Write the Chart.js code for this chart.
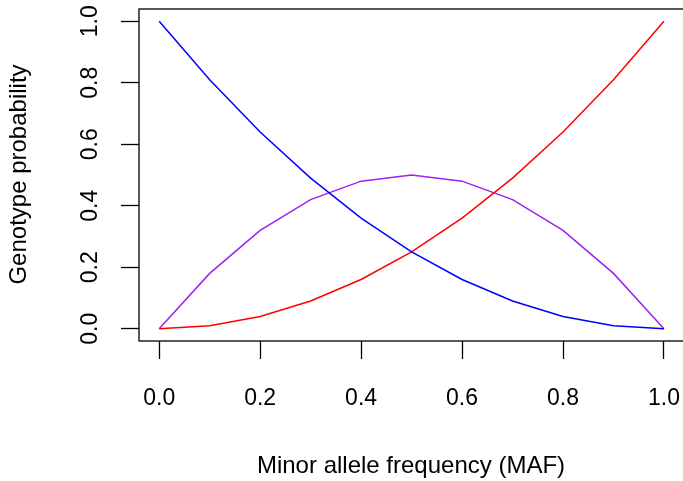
<!DOCTYPE html>
<html lang="en">
<head>
    <meta charset="UTF-8">
    <title>Genotype probability</title>
    <script src="https://cdn.jsdelivr.net/npm/chart.js"></script>
    <style>
        html, body { margin: 0; padding: 0; background: #fff; }
        #wrap { width: 683px; height: 481px; }
    </style>
</head>
<body>
    <div id="wrap"><canvas id="hwChart" width="683" height="481"></canvas></div>
    <script>
        // values
        const maf = [0.0, 0.1, 0.2, 0.3, 0.4, 0.5, 0.6, 0.7, 0.8, 0.9, 1.0];
        const homMajor = [1.00, 0.81, 0.64, 0.49, 0.36, 0.25, 0.16, 0.09, 0.04, 0.01, 0.00];
        const homMinor = [0.00, 0.01, 0.04, 0.09, 0.16, 0.25, 0.36, 0.49, 0.64, 0.81, 1.00];
        const hetero = [0.00, 0.18, 0.32, 0.42, 0.48, 0.50, 0.48, 0.42, 0.32, 0.18, 0.00];
        const xTicks = [0.0, 0.2, 0.4, 0.6, 0.8, 1.0];
        const yTicks = [0.0, 0.2, 0.4, 0.6, 0.8, 1.0];
        const xTitle = 'Minor allele frequency (MAF)';
        const yTitle = 'Genotype probability';

        const TICK_FONT = '23px "Liberation Sans", Arial, sans-serif';
        const TITLE_FONT = '24px "Liberation Sans", Arial, sans-serif';

        function pts(ys) {
            return maf.map((m, i) => ({ x: m, y: ys[i] }));
        }

        // R-style box, tick labels and axis titles
        const rFrame = {
            id: 'rFrame',
            afterDraw(chart) {
                const { ctx, chartArea: a, scales } = chart;
                ctx.save();
                ctx.strokeStyle = '#000';
                ctx.lineWidth = 1.3;
                ctx.strokeRect(a.left, a.top, a.right + 2 - a.left, a.bottom - a.top);

                ctx.fillStyle = '#000';
                ctx.textAlign = 'center';
                ctx.textBaseline = 'alphabetic';
                ctx.font = TICK_FONT;
                xTicks.forEach(v => {
                    ctx.fillText(v.toFixed(1), scales.x.getPixelForValue(v), 405);
                });
                yTicks.forEach(v => {
                    ctx.save();
                    ctx.translate(97, scales.y.getPixelForValue(v));
                    ctx.rotate(-Math.PI / 2);
                    ctx.fillText(v.toFixed(1), 0, 0);
                    ctx.restore();
                });

                ctx.font = TITLE_FONT;
                ctx.fillText(xTitle, 411, 473);
                ctx.save();
                ctx.translate(26, 174.5);
                ctx.rotate(-Math.PI / 2);
                ctx.fillText(yTitle, 0, 0);
                ctx.restore();
                ctx.restore();
            }
        };

        const tickGrid = {
            drawOnChartArea: false,
            drawTicks: true,
            tickLength: 18,
            tickColor: '#000',
            tickWidth: 1.3
        };

        new Chart(document.getElementById('hwChart'), {
            type: 'line',
            data: {
                datasets: [
                    { label: 'AA', data: pts(homMajor), borderColor: '#0000FF' },
                    { label: 'aa', data: pts(homMinor), borderColor: '#FF0000' },
                    { label: 'Aa', data: pts(hetero), borderColor: '#A020F0' }
                ]
            },
            options: {
                responsive: false,
                animation: false,
                layout: { padding: { top: 9, left: 0, right: 0, bottom: 0 } },
                elements: {
                    point: { radius: 0 },
                    line: { borderWidth: 1.5, tension: 0, fill: false }
                },
                plugins: {
                    legend: { display: false },
                    tooltip: { enabled: false }
                },
                scales: {
                    x: {
                        type: 'linear',
                        min: -0.04,
                        max: 1.0377,
                        afterBuildTicks: s => { s.ticks = xTicks.map(v => ({ value: v })); },
                        afterFit: s => { s.height = 140; },
                        grid: tickGrid,
                        border: { display: false },
                        ticks: { display: false }
                    },
                    y: {
                        type: 'linear',
                        min: -0.04,
                        max: 1.04,
                        afterBuildTicks: s => { s.ticks = yTicks.map(v => ({ value: v })); },
                        afterFit: s => { s.width = 139; },
                        grid: tickGrid,
                        border: { display: false },
                        ticks: { display: false }
                    }
                }
            },
            plugins: [rFrame]
        });
    </script>
</body>
</html>
